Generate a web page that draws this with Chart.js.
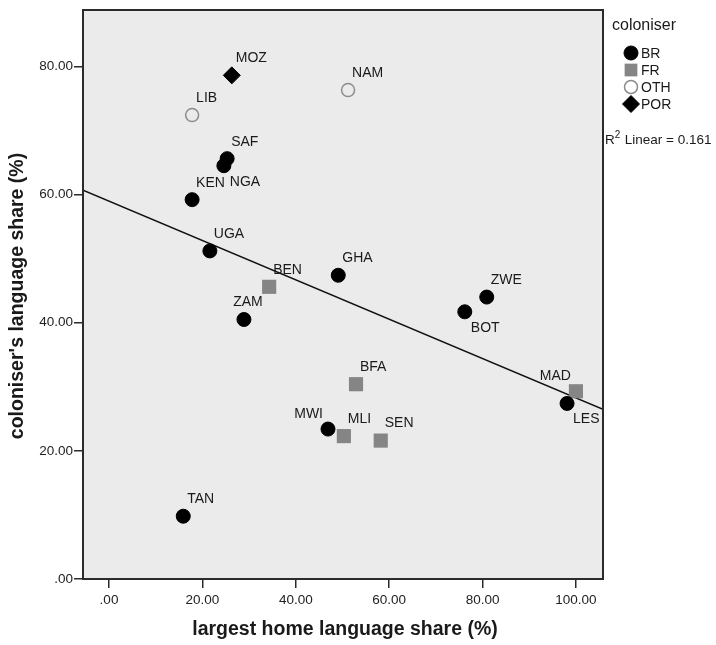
<!DOCTYPE html>
<html>
<head>
<meta charset="utf-8">
<script src="https://cdn.jsdelivr.net/npm/chart.js@4/dist/chart.umd.min.js"></script>
<style>
  html, body { margin: 0; padding: 0; background: #fff; }
  #wrap { width: 716px; height: 645px; }
</style>
</head>
<body>
<div id="wrap"><canvas id="c"></canvas></div>
<script>
// data
const countries  = ['MOZ','LIB','NAM','SAF','NGA','KEN','UGA','BEN','GHA','ZAM','ZWE','BOT','BFA','MLI','SEN','MWI','MAD','LES','TAN'];
const coloniser  = ['POR','OTH','OTH','BR','BR','BR','BR','FR','BR','BR','BR','BR','FR','FR','FR','BR','FR','BR','BR'];
const homeShare  = [26.3, 17.8, 51.2, 25.3, 24.6, 17.8, 21.6, 34.3, 49.1, 28.9, 80.9, 76.2, 52.9, 50.3, 58.2, 46.9, 100.0, 98.1, 15.9];
const colonShare = [78.6, 72.4, 76.3, 65.6, 64.5, 59.2, 51.2, 45.6, 47.4, 40.5, 44.0, 41.7, 30.4, 22.3, 21.6, 23.4, 29.3, 27.4, 9.8];
const groups = ['BR', 'FR', 'OTH', 'POR'];
const xTicks = [0, 20, 40, 60, 80, 100];
const yTicks = [0, 20, 40, 60, 80];
const rSquared = 0.161;

const X_MIN = -5.57, X_MAX = 105.8, Y_MIN = 0, Y_MAX = 88.8;
const FONT = '"Liberation Sans", Arial, sans-serif';

// where each country code sits relative to its marker (default: up-right)
const labelPlace = { NGA: 'se', BOT: 'se', LES: 'se', MWI: 'nw', MAD: 'nw', ZAM: 'n' };

const groupStyle = {
  BR:  { pointStyle: 'circle',  radius: 7,   bg: '#000',     border: '#000',    bw: 1 },
  FR:  { pointStyle: 'rect',    radius: 10,  bg: '#858585',  border: '#858585', bw: 0 },
  OTH: { pointStyle: 'circle',  radius: 6.5, bg: 'rgba(0,0,0,0)', border: '#8c8c8c', bw: 1.5 },
  POR: { pointStyle: 'rectRot', radius: 8.5, bg: '#000',     border: '#000',    bw: 1 },
};

// least squares fit for the R2 linear line
function linearFit(xs, ys) {
  const n = xs.length;
  const mx = xs.reduce((a, b) => a + b, 0) / n;
  const my = ys.reduce((a, b) => a + b, 0) / n;
  let sxy = 0, sxx = 0;
  for (let i = 0; i < n; i++) { sxy += (xs[i] - mx) * (ys[i] - my); sxx += (xs[i] - mx) ** 2; }
  const slope = sxy / sxx;
  return { slope, intercept: my - slope * mx };
}
const fit = linearFit(homeShare, colonShare);

const datasets = groups.map(g => {
  const st = groupStyle[g];
  const pts = [];
  countries.forEach((c, i) => { if (coloniser[i] === g) pts.push({ x: homeShare[i], y: colonShare[i], code: c }); });
  return {
    label: g,
    data: pts,
    pointStyle: st.pointStyle,
    pointRadius: st.radius,
    pointHoverRadius: st.radius,
    backgroundColor: st.bg,
    borderColor: st.border,
    borderWidth: st.bw,
    order: 1,
  };
});
datasets.push({
  type: 'line',
  label: 'fit',
  data: [X_MIN, X_MAX].map(x => ({ x, y: fit.intercept + fit.slope * x })),
  borderColor: '#111',
  borderWidth: 1.6,
  pointRadius: 0,
  fill: false,
  order: 10,
});

const frame = {
  id: 'frame',
  beforeDraw(chart) {
    const { ctx, chartArea: a } = chart;
    ctx.save();
    ctx.fillStyle = '#ebebeb';
    ctx.fillRect(a.left, a.top, a.right - a.left, a.bottom - a.top);
    ctx.restore();
  },
  afterDraw(chart) {
    const { ctx, chartArea: a } = chart;
    ctx.save();
    ctx.strokeStyle = '#2b2b2b';
    ctx.lineWidth = 2;
    ctx.strokeRect(a.left, a.top, a.right - a.left, a.bottom - a.top);

    // axis titles
    ctx.fillStyle = '#1a1a1a';
    ctx.font = 'bold 19.5px ' + FONT;
    ctx.textAlign = 'center';
    ctx.textBaseline = 'middle';
    ctx.fillText('largest home language share (%)', (a.left + a.right) / 2 + 2, 630);
    ctx.save();
    ctx.translate(18, 296);
    ctx.rotate(-Math.PI / 2);
    ctx.fillText("coloniser's language share (%)", 0, 0);
    ctx.restore();

    // legend
    ctx.textAlign = 'left';
    ctx.font = '16px ' + FONT;
    ctx.fillText('coloniser', 612, 26);
    ctx.font = '14px ' + FONT;
    groups.forEach((g, i) => {
      const st = groupStyle[g];
      const y = 53 + i * 17;
      ctx.fillStyle = st.bg;
      ctx.strokeStyle = st.border;
      ctx.lineWidth = st.bw;
      Chart.helpers.drawPoint(ctx, { pointStyle: st.pointStyle, radius: g === 'FR' ? 9 : st.radius, borderWidth: st.bw, rotation: 0 }, 631, y);
      ctx.fillStyle = '#1a1a1a';
      ctx.fillText(g, 641, y + 1);
    });

    // R2 note
    ctx.font = '13.5px ' + FONT;
    ctx.fillText('R', 605, 140);
    let w = ctx.measureText('R').width;
    ctx.font = '10px ' + FONT;
    ctx.fillText('2', 605 + w, 135);
    ctx.font = '13.5px ' + FONT;
    ctx.fillText('Linear = ' + rSquared.toFixed(3), 605 + w + 10, 140);
    ctx.restore();
  }
};

const pointLabels = {
  id: 'pointLabels',
  afterDatasetsDraw(chart) {
    const { ctx } = chart;
    const xs = chart.scales.x, ys = chart.scales.y;
    ctx.save();
    ctx.font = '14px ' + FONT;
    ctx.fillStyle = '#1a1a1a';
    ctx.textBaseline = 'middle';
    countries.forEach((c, i) => {
      const px = xs.getPixelForValue(homeShare[i]);
      const py = ys.getPixelForValue(colonShare[i]);
      const place = labelPlace[c] || 'ne';
      if (place === 'ne') { ctx.textAlign = 'left'; ctx.fillText(c, px + 4, py - 17); }
      else if (place === 'se') { ctx.textAlign = 'left'; ctx.fillText(c, px + 6, py + 16); }
      else if (place === 'nw') { ctx.textAlign = 'right'; ctx.fillText(c, px - 5, py - 15); }
      else { ctx.textAlign = 'center'; ctx.fillText(c, px + 4, py - 17); }
    });
    ctx.restore();
  }
};

new Chart(document.getElementById('c'), {
  type: 'scatter',
  data: { datasets },
  plugins: [frame, pointLabels],
  options: {
    responsive: true,
    maintainAspectRatio: false,
    animation: false,
    layout: { padding: { top: 7, right: 113, bottom: 0, left: 0 } },
    plugins: { legend: { display: false }, tooltip: { enabled: false } },
    scales: {
      x: {
        type: 'linear', min: X_MIN, max: X_MAX,
        afterBuildTicks: s => { s.ticks = xTicks.map(v => ({ value: v })); },
        afterFit: s => { s.height = 66; },
        border: { display: false },
        grid: { drawOnChartArea: false, drawTicks: true, tickLength: 9, color: '#2b2b2b', lineWidth: 1.5 },
        ticks: {
          padding: 4, color: '#222', font: { family: FONT, size: 13.5 },
          maxRotation: 0,
          callback: v => v === 0 ? '.00' : v.toFixed(2),
        },
      },
      y: {
        type: 'linear', min: Y_MIN, max: Y_MAX,
        afterBuildTicks: s => { s.ticks = yTicks.map(v => ({ value: v })); },
        afterFit: s => { s.width = 83; },
        border: { display: false },
        grid: { drawOnChartArea: false, drawTicks: true, tickLength: 9, color: '#2b2b2b', lineWidth: 1.5 },
        ticks: {
          padding: 1, color: '#222', font: { family: FONT, size: 13.5 },
          callback: v => v === 0 ? '.00' : v.toFixed(2),
        },
      },
    },
  },
});
</script>
</body>
</html>
